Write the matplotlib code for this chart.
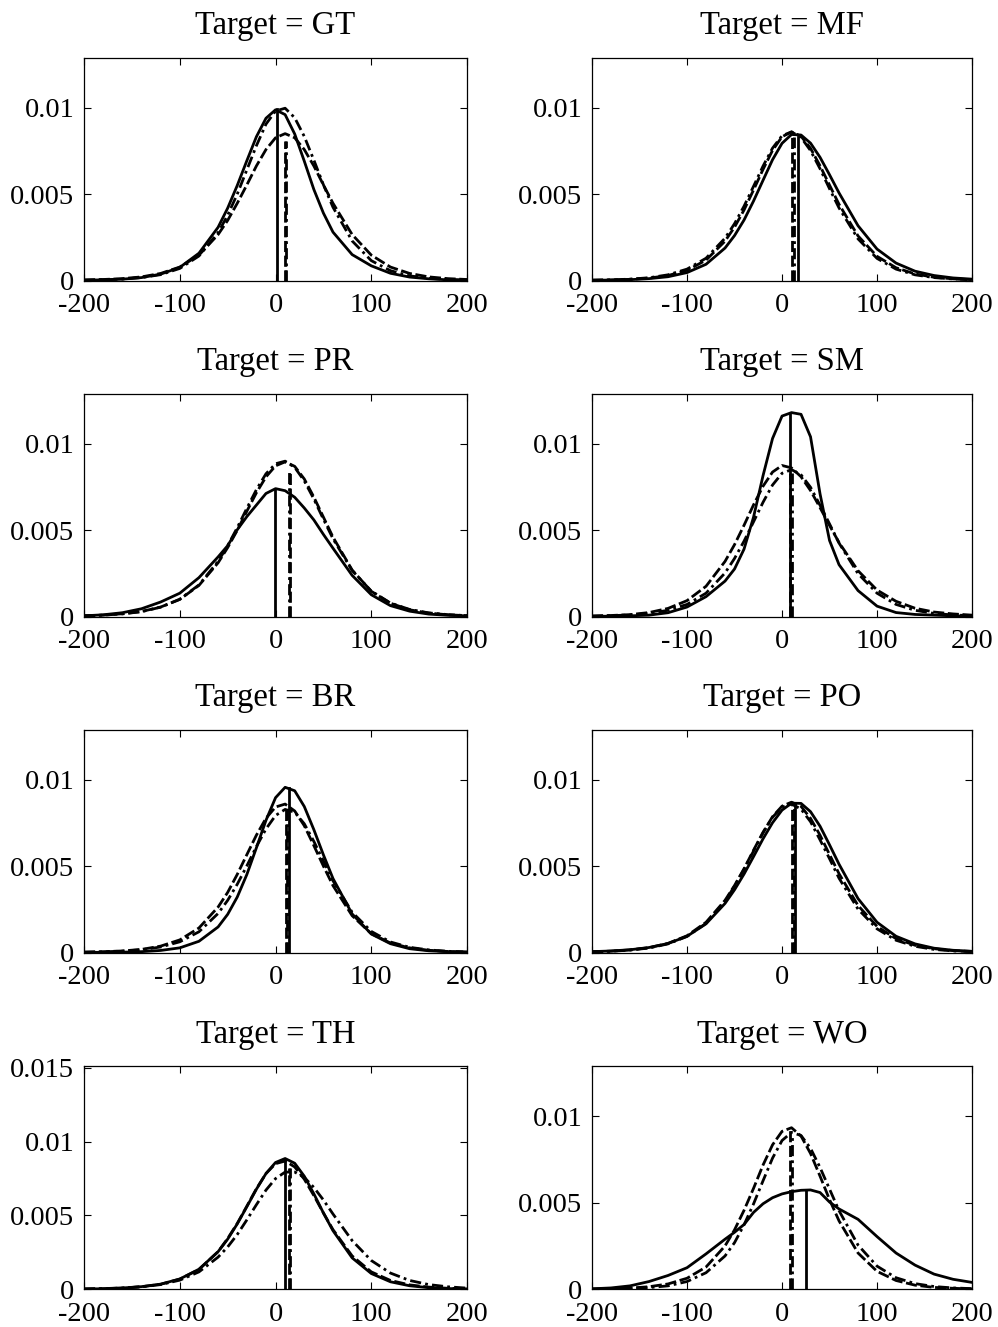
import numpy as np
import matplotlib as mpl
import matplotlib.pyplot as plt

mpl.rcParams['font.family'] = ['Liberation Serif', 'DejaVu Serif']

# grid the curves were read on
x = [-200, -180, -160, -140, -120, -100, -80, -60, -50, -40, -30, -20, -10, 0,
     10, 20, 30, 40, 50, 60, 80, 100, 120, 140, 160, 180, 200]

targets = ['GT', 'MF', 'PR', 'SM', 'BR', 'PO', 'TH', 'WO']

# ---- GT
gt_solid = [0.00002, 0.00004, 0.00008, 0.00017, 0.00037, 0.00076, 0.00158, 0.00308, 0.00419, 0.00550,
            0.00693, 0.00832, 0.00939, 0.00988, 0.00960, 0.00848, 0.00691, 0.00527, 0.00390, 0.00280,
            0.00150, 0.00085, 0.00042, 0.00020, 0.00010, 0.00004, 0.00002]
gt_dashed = [0.00003, 0.00006, 0.00011, 0.00021, 0.00041, 0.00078, 0.00147, 0.00266, 0.00348, 0.00447,
             0.00553, 0.00663, 0.00758, 0.00826, 0.00850, 0.00826, 0.00758, 0.00663, 0.00553, 0.00447,
             0.00266, 0.00147, 0.00078, 0.00041, 0.00021, 0.00011, 0.00006]
gt_dashdot = [0.00002, 0.00004, 0.00008, 0.00017, 0.00034, 0.00070, 0.00142, 0.00277, 0.00378, 0.00500,
              0.00640, 0.00780, 0.00905, 0.00981, 0.00997, 0.00942, 0.00834, 0.00697, 0.00554, 0.00424,
              0.00229, 0.00115, 0.00057, 0.00027, 0.00013, 0.00006, 0.00003]
gt_means = [1, 10, 11]
gt_tops = [0.0099, 0.0081, 0.0081]

# ---- MF
mf_solid = [0.00001, 0.00003, 0.00005, 0.00011, 0.00022, 0.00046, 0.00094, 0.00188, 0.00260, 0.00350,
            0.00460, 0.00580, 0.00699, 0.00794, 0.00845, 0.00842, 0.00795, 0.00713, 0.00612, 0.00507,
            0.00317, 0.00182, 0.00101, 0.00054, 0.00029, 0.00015, 0.00008]
mf_dashed = [0.00002, 0.00003, 0.00007, 0.00014, 0.00029, 0.00059, 0.00118, 0.00228, 0.00309, 0.00408,
             0.00524, 0.00643, 0.00753, 0.00832, 0.00860, 0.00835, 0.00765, 0.00664, 0.00552, 0.00441,
             0.00258, 0.00140, 0.00074, 0.00038, 0.00019, 0.00010, 0.00005]
mf_dashdot = [0.00002, 0.00004, 0.00008, 0.00016, 0.00033, 0.00066, 0.00129, 0.00245, 0.00329, 0.00430,
              0.00545, 0.00662, 0.00766, 0.00838, 0.00860, 0.00828, 0.00752, 0.00647, 0.00531, 0.00420,
              0.00241, 0.00128, 0.00066, 0.00033, 0.00017, 0.00009, 0.00004]
mf_means = [17, 10, 13]
mf_tops = [0.0083, 0.0083, 0.0083]

# ---- PR
pr_solid = [0.00004, 0.00010, 0.00022, 0.00045, 0.00084, 0.00135, 0.00225, 0.00345, 0.00410, 0.00502,
            0.00578, 0.00645, 0.00712, 0.00740, 0.00728, 0.00690, 0.00628, 0.00559, 0.00475, 0.00395,
            0.00238, 0.00126, 0.00063, 0.00031, 0.00014, 0.00007, 0.00004]
pr_dashed = [0.00004, 0.00008, 0.00016, 0.00029, 0.00055, 0.00099, 0.00180, 0.00311, 0.00399, 0.00499,
             0.00609, 0.00716, 0.00808, 0.00872, 0.00895, 0.00869, 0.00796, 0.00691, 0.00575, 0.00459,
             0.00269, 0.00146, 0.00077, 0.00039, 0.00020, 0.00010, 0.00005]
pr_dashdot = [0.00004, 0.00008, 0.00015, 0.00028, 0.00054, 0.00100, 0.00183, 0.00319, 0.00410, 0.00514,
              0.00626, 0.00734, 0.00826, 0.00884, 0.00899, 0.00863, 0.00785, 0.00680, 0.00563, 0.00450,
              0.00266, 0.00147, 0.00078, 0.00041, 0.00021, 0.00011, 0.00005]
pr_means = [-1, 15, 14]
pr_tops = [0.0074, 0.0085, 0.0085]

# ---- SM
sm_solid = [0.00001, 0.00002, 0.00004, 0.00008, 0.00022, 0.00055, 0.00115, 0.00205, 0.00275, 0.00390,
            0.00575, 0.00815, 0.01030, 0.01160, 0.01180, 0.01170, 0.01040, 0.00710, 0.00440, 0.00300,
            0.00150, 0.00060, 0.00023, 0.00012, 0.00008, 0.00004, 0.00002]
sm_dashed = [0.00003, 0.00006, 0.00011, 0.00023, 0.00047, 0.00092, 0.00175, 0.00319, 0.00416, 0.00528,
             0.00646, 0.00754, 0.00836, 0.00874, 0.00860, 0.00809, 0.00729, 0.00630, 0.00527, 0.00428,
             0.00265, 0.00153, 0.00088, 0.00048, 0.00026, 0.00015, 0.00008]
sm_dashdot = [0.00002, 0.00005, 0.00009, 0.00018, 0.00036, 0.00070, 0.00135, 0.00252, 0.00336, 0.00436,
              0.00548, 0.00661, 0.00761, 0.00829, 0.00850, 0.00820, 0.00748, 0.00644, 0.00536, 0.00425,
              0.00248, 0.00135, 0.00070, 0.00036, 0.00018, 0.00009, 0.00005]
sm_means = [8, 8, 10]
sm_tops = [0.0118, 0.0083, 0.0083]

# ---- BR
br_solid = [0.00001, 0.00001, 0.00002, 0.00005, 0.00012, 0.00027, 0.00065, 0.00148, 0.00221, 0.00321,
            0.00451, 0.00606, 0.00765, 0.00896, 0.00956, 0.00936, 0.00845, 0.00711, 0.00565, 0.00428,
            0.00223, 0.00107, 0.00051, 0.00022, 0.00010, 0.00005, 0.00002]
br_dashed = [0.00002, 0.00005, 0.00009, 0.00018, 0.00037, 0.00073, 0.00142, 0.00263, 0.00348, 0.00452,
             0.00566, 0.00679, 0.00777, 0.00842, 0.00859, 0.00819, 0.00734, 0.00619, 0.00500, 0.00387,
             0.00213, 0.00109, 0.00055, 0.00027, 0.00013, 0.00006, 0.00003]
br_dashdot = [0.00002, 0.00004, 0.00008, 0.00016, 0.00032, 0.00062, 0.00120, 0.00226, 0.00302, 0.00395,
              0.00501, 0.00613, 0.00715, 0.00793, 0.00828, 0.00812, 0.00745, 0.00643, 0.00529, 0.00415,
              0.00233, 0.00122, 0.00061, 0.00030, 0.00015, 0.00007, 0.00003]
br_means = [14, 11, 12]
br_tops = [0.0095, 0.0085, 0.0083]

# ---- PO
po_solid = [0.00005, 0.00009, 0.00016, 0.00029, 0.00052, 0.00094, 0.00166, 0.00284, 0.00363, 0.00454,
            0.00555, 0.00658, 0.00751, 0.00824, 0.00864, 0.00863, 0.00815, 0.00731, 0.00623, 0.00511,
            0.00312, 0.00175, 0.00094, 0.00050, 0.00025, 0.00013, 0.00007]
po_dashed = [0.00004, 0.00008, 0.00015, 0.00028, 0.00053, 0.00097, 0.00175, 0.00302, 0.00388, 0.00485,
             0.00592, 0.00696, 0.00786, 0.00847, 0.00870, 0.00846, 0.00776, 0.00679, 0.00567, 0.00456,
             0.00272, 0.00151, 0.00080, 0.00042, 0.00022, 0.00011, 0.00006]
po_dashdot = [0.00004, 0.00007, 0.00014, 0.00026, 0.00050, 0.00093, 0.00169, 0.00296, 0.00384, 0.00481,
              0.00587, 0.00692, 0.00783, 0.00841, 0.00860, 0.00830, 0.00757, 0.00652, 0.00543, 0.00430,
              0.00251, 0.00137, 0.00071, 0.00036, 0.00018, 0.00009, 0.00005]
po_means = [14, 11, 13]
po_tops = [0.0086, 0.0086, 0.0085]

# ---- TH
th_solid = [0.00002, 0.00004, 0.00009, 0.00018, 0.00035, 0.00070, 0.00136, 0.00255, 0.00340, 0.00443,
            0.00559, 0.00678, 0.00784, 0.00859, 0.00886, 0.00854, 0.00766, 0.00647, 0.00517, 0.00397,
            0.00213, 0.00107, 0.00051, 0.00024, 0.00011, 0.00005, 0.00003]
th_dashed = [0.00002, 0.00004, 0.00008, 0.00017, 0.00034, 0.00069, 0.00134, 0.00255, 0.00344, 0.00446,
             0.00563, 0.00681, 0.00784, 0.00851, 0.00869, 0.00829, 0.00746, 0.00635, 0.00517, 0.00404,
             0.00226, 0.00118, 0.00060, 0.00030, 0.00015, 0.00007, 0.00003]
th_dashdot = [0.00002, 0.00005, 0.00009, 0.00017, 0.00032, 0.00062, 0.00118, 0.00218, 0.00287, 0.00371,
              0.00470, 0.00573, 0.00672, 0.00750, 0.00794, 0.00794, 0.00758, 0.00690, 0.00605, 0.00510,
              0.00330, 0.00195, 0.00110, 0.00060, 0.00032, 0.00017, 0.00008]
th_means = [10, 14, 15]
th_tops = [0.0088, 0.0082, 0.0082]

# ---- WO
wo_solid = [0.00003, 0.00008, 0.00020, 0.00045, 0.00080, 0.00125, 0.00205, 0.00290, 0.00330, 0.00375,
            0.00445, 0.00495, 0.00530, 0.00552, 0.00565, 0.00573, 0.00575, 0.00560, 0.00505, 0.00465,
            0.00405, 0.00305, 0.00210, 0.00140, 0.00088, 0.00058, 0.00040]
wo_dashed = [0.00001, 0.00003, 0.00007, 0.00015, 0.00031, 0.00064, 0.00129, 0.00251, 0.00344, 0.00457,
             0.00584, 0.00719, 0.00836, 0.00914, 0.00935, 0.00887, 0.00786, 0.00655, 0.00519, 0.00396,
             0.00210, 0.00104, 0.00051, 0.00024, 0.00011, 0.00006, 0.00002]
wo_dashdot = [0.00001, 0.00002, 0.00005, 0.00010, 0.00020, 0.00045, 0.00096, 0.00193, 0.00270, 0.00373,
              0.00494, 0.00628, 0.00759, 0.00861, 0.00908, 0.00890, 0.00816, 0.00705, 0.00580, 0.00455,
              0.00256, 0.00134, 0.00067, 0.00033, 0.00016, 0.00008, 0.00004]
wo_means = [25, 8, 10]
wo_tops = [0.0057, 0.0093, 0.0090]

curves = [
    (gt_solid, gt_dashed, gt_dashdot), (mf_solid, mf_dashed, mf_dashdot),
    (pr_solid, pr_dashed, pr_dashdot), (sm_solid, sm_dashed, sm_dashdot),
    (br_solid, br_dashed, br_dashdot), (po_solid, po_dashed, po_dashdot),
    (th_solid, th_dashed, th_dashdot), (wo_solid, wo_dashed, wo_dashdot),
]
means = [gt_means, mf_means, pr_means, sm_means, br_means, po_means, th_means, wo_means]
tops = [gt_tops, mf_tops, pr_tops, sm_tops, br_tops, po_tops, th_tops, wo_tops]

styles = ['-', (0, (4, 1.3)), (0, (4, 1.5, 1, 1.5))]

fig = plt.figure(figsize=(9.98, 13.27), dpi=100)

lefts = [0.0842, 0.5932]
widths = [0.3838, 0.3808]
bottoms = [0.7886, 0.5354, 0.2822, 0.0284]
h = 0.168

for i, name in enumerate(targets):
    r, c = divmod(i, 2)
    ax = fig.add_axes([lefts[c], bottoms[r], widths[c], h])
    for k in range(3):
        ax.plot(x, curves[i][k], color='k', lw=2.0, linestyle=styles[k])
        ax.plot([means[i][k], means[i][k]], [0, tops[i][k]], color='k', lw=2.0, linestyle=styles[k])
    ax.set_xlim(-200, 200)
    ax.set_xticks([-200, -100, 0, 100, 200])
    ax.set_xticklabels(['-200', '-100', '0', '100', '200'])
    if name == 'TH':
        ax.set_ylim(0, 0.0151)
        ax.set_yticks([0, 0.005, 0.01, 0.015])
        ax.set_yticklabels(['0', '0.005', '0.01', '0.015'])
    else:
        ax.set_ylim(0, 0.0129)
        ax.set_yticks([0, 0.005, 0.01])
        ax.set_yticklabels(['0', '0.005', '0.01'])
    ax.tick_params(direction='in', top=True, right=True, length=5, width=0.8,
                   labelsize=20.5)
    ax.tick_params(axis='x', pad=9)
    ax.tick_params(axis='y', pad=7)
    for s in ax.spines.values():
        s.set_linewidth(0.9)
    ax.set_title('Target = ' + name, fontsize=23.5, pad=17)

fig.savefig('out.png', dpi=100)
